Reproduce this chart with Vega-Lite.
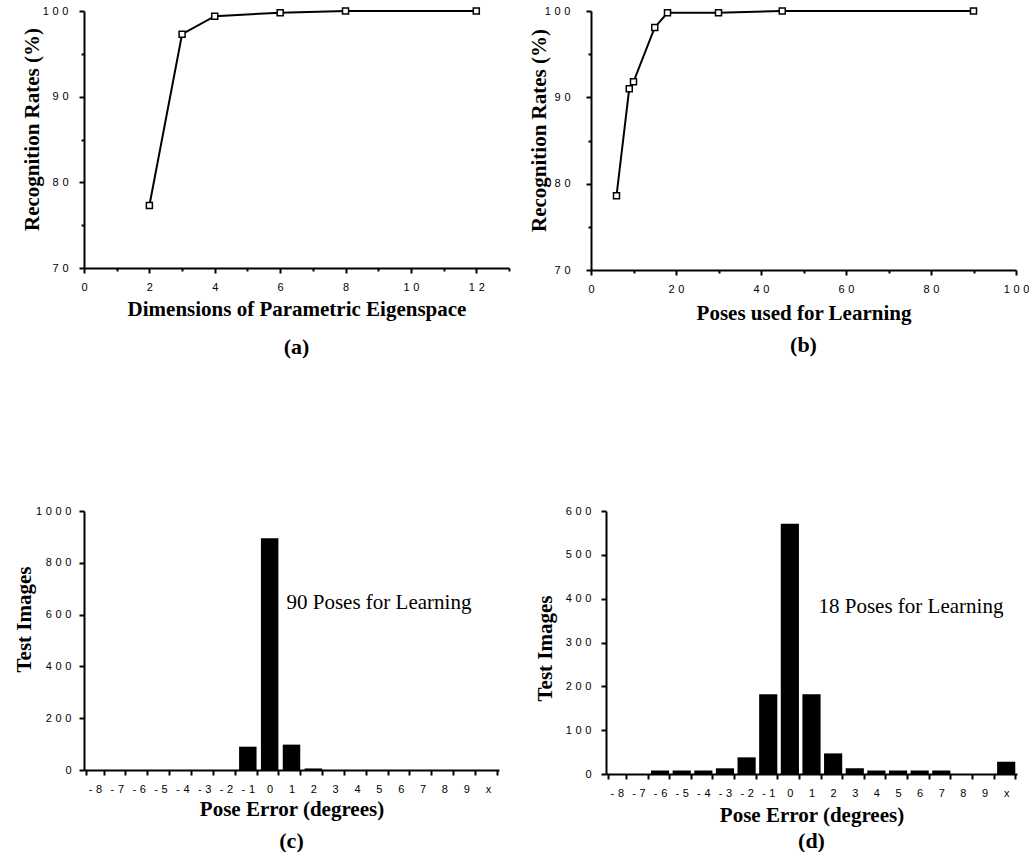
{
  "$schema": "https://vega.github.io/schema/vega-lite/v6.json",
  "background": "white",
  "padding": {"left": 13, "top": 5, "right": 0, "bottom": 0},
  "config": {
    "view": {"stroke": null},
    "axis": {
      "domainColor": "black", "domainWidth": 2, "tickColor": "black", "tickWidth": 2,
      "labelFont": "Liberation Sans", "labelFontSize": 11, "labelColor": "black", "labelPadding": 8,
      "titleFont": "Liberation Serif", "titleFontSize": 21, "titleFontWeight": "bold", "titleColor": "black",
      "grid": false, "labelOverlap": false, "labelFlush": false, "labelAngle": 0
    },
    "title": {"font": "Liberation Serif", "fontSize": 22, "fontWeight": "bold", "color": "black", "orient": "bottom", "offset": 12}
  },
  "spacing": 147,
  "vconcat": [
    {
      "hconcat": [
        {
          "width": 425, "height": 257,
          "title": {"text": "(a)", "offset": 18},
          "data": {"values": [
            {"dim": 2, "rate": 77.3}, {"dim": 3, "rate": 97.3}, {"dim": 4, "rate": 99.4},
            {"dim": 6, "rate": 99.8}, {"dim": 8, "rate": 100}, {"dim": 12, "rate": 100}
          ]},
          "mark": {"type": "line", "color": "black", "strokeWidth": 2,
            "point": {"shape": "square", "filled": true, "fill": "white", "stroke": "black", "strokeWidth": 1.5, "size": 36}},
          "encoding": {
            "x": {"field": "dim", "type": "quantitative", "scale": {"domain": [0, 13], "nice": false},
              "axis": {"title": "Dimensions of Parametric Eigenspace", "values": [0,1,2,3,4,5,6,7,8,9,10,11,12,13],
                "labelExpr": "datum.value % 2 == 0 && datum.value <= 12 ? replace(toString(datum.value), regexp('(.)(?=.)', 'g'), '$1\u2004') : ''",
                "tickSize": {"condition": {"test": "datum.value % 2 != 0", "value": 3}, "value": 5}, "titlePadding": 6}},
            "y": {"field": "rate", "type": "quantitative", "scale": {"domain": [70, 100], "nice": false, "zero": false},
              "axis": {"title": "Recognition Rates (%)", "values": [70,75,80,85,90,95,100], "titleY": 118,
                "labelPadding": 11, "titlePadding": 0,
                "labelExpr": "datum.value % 10 == 0 ? replace(toString(datum.value), regexp('(.)(?=.)', 'g'), '$1\u2004') : ''",
                "tickSize": {"condition": {"test": "datum.value % 10 != 0", "value": 3}, "value": 5}}}
          }
        },
        {
          "width": 425, "height": 259,
          "title": "(b)",
          "data": {"values": [
            {"poses": 6, "rate": 78.6}, {"poses": 9, "rate": 91.0}, {"poses": 10, "rate": 91.8},
            {"poses": 15, "rate": 98.1}, {"poses": 18, "rate": 99.8}, {"poses": 30, "rate": 99.8},
            {"poses": 45, "rate": 100}, {"poses": 90, "rate": 100}
          ]},
          "mark": {"type": "line", "color": "black", "strokeWidth": 2,
            "point": {"shape": "square", "filled": true, "fill": "white", "stroke": "black", "strokeWidth": 1.5, "size": 36}},
          "encoding": {
            "x": {"field": "poses", "type": "quantitative", "scale": {"domain": [0, 100], "nice": false},
              "axis": {"title": "Poses used for Learning", "values": [0,10,20,30,40,50,60,70,80,90,100],
                "labelExpr": "datum.value % 20 == 0 ? replace(toString(datum.value), regexp('(.)(?=.)', 'g'), '$1\u2004') : ''",
                "tickSize": {"condition": {"test": "datum.value % 20 != 0", "value": 3}, "value": 5}, "titlePadding": 8}},
            "y": {"field": "rate", "type": "quantitative", "scale": {"domain": [70, 100], "nice": false, "zero": false},
              "axis": {"title": "Recognition Rates (%)", "values": [70,75,80,85,90,95,100], "titleY": 119,
                "labelPadding": 16, "titlePadding": -5,
                "labelExpr": "datum.value % 10 == 0 ? replace(toString(datum.value), regexp('(.)(?=.)', 'g'), '$1\u2004') : ''",
                "tickSize": {"condition": {"test": "datum.value % 10 != 0", "value": 3}, "value": 5}}}
          }
        }
      ],
      "spacing": 18
    },
    {
      "hconcat": [
        {
          "width": 415, "height": 259,
          "title": "(c)",
          "layer": [
            {
              "data": {"values": [
                {"pose": "-8", "count": 0}, {"pose": "-7", "count": 0}, {"pose": "-6", "count": 0},
                {"pose": "-5", "count": 0}, {"pose": "-4", "count": 0}, {"pose": "-3", "count": 0},
                {"pose": "-2", "count": 0}, {"pose": "-1", "count": 90}, {"pose": "0", "count": 895},
                {"pose": "1", "count": 98}, {"pose": "2", "count": 6}, {"pose": "3", "count": 0},
                {"pose": "4", "count": 0}, {"pose": "5", "count": 0}, {"pose": "6", "count": 0},
                {"pose": "7", "count": 0}, {"pose": "8", "count": 0}, {"pose": "9", "count": 0},
                {"pose": "x", "count": 0}
              ]},
              "mark": {"type": "bar", "color": "black"},
              "encoding": {
                "x": {"field": "pose", "type": "ordinal", "sort": null,
                  "scale": {"domain": ["-8","-7","-6","-5","-4","-3","-2","-1","0","1","2","3","4","5","6","7","8","9","x"], "paddingInner": 0.2, "paddingOuter": 0.1},
                  "axis": {"title": "Pose Error (degrees)", "tickBand": "extent", "tickSize": 5, "titlePadding": 4,
                    "labelExpr": "replace(datum.label, regexp('(.)(?=.)', 'g'), '$1\u2004')"}},
                "y": {"field": "count", "type": "quantitative", "scale": {"domain": [0, 1000], "nice": false},
                  "axis": {"title": "Test Images", "values": [0,100,200,300,400,500,600,700,800,900,1000], "titleY": 108,
                    "labelPadding": 8, "titlePadding": 1,
                    "labelExpr": "datum.value % 200 == 0 ? replace(toString(datum.value), regexp('(.)(?=.)', 'g'), '$1\u2004') : ''",
                    "tickSize": {"condition": {"test": "datum.value % 200 != 0", "value": 3}, "value": 5}}}
              }
            },
            {
              "data": {"values": [{"pose": "1", "count": 645, "label": "90 Poses for Learning"}]},
              "mark": {"type": "text", "font": "Liberation Serif", "fontSize": 21, "align": "left", "baseline": "middle", "dx": -5, "color": "black"},
              "encoding": {
                "x": {"field": "pose", "type": "ordinal"},
                "y": {"field": "count", "type": "quantitative"},
                "text": {"field": "label"}
              }
            }
          ]
        },
        {
          "width": 411, "height": 263,
          "title": {"text": "(d)", "offset": 6},
          "layer": [
            {
              "data": {"values": [
                {"pose": "-8", "count": 0}, {"pose": "-7", "count": 0}, {"pose": "-6", "count": 8},
                {"pose": "-5", "count": 8}, {"pose": "-4", "count": 8}, {"pose": "-3", "count": 13},
                {"pose": "-2", "count": 38}, {"pose": "-1", "count": 182}, {"pose": "0", "count": 571},
                {"pose": "1", "count": 182}, {"pose": "2", "count": 47}, {"pose": "3", "count": 13},
                {"pose": "4", "count": 8}, {"pose": "5", "count": 8}, {"pose": "6", "count": 8},
                {"pose": "7", "count": 8}, {"pose": "8", "count": 0}, {"pose": "9", "count": 0},
                {"pose": "x", "count": 28}
              ]},
              "mark": {"type": "bar", "color": "black"},
              "encoding": {
                "x": {"field": "pose", "type": "ordinal", "sort": null,
                  "scale": {"domain": ["-8","-7","-6","-5","-4","-3","-2","-1","0","1","2","3","4","5","6","7","8","9","x"], "paddingInner": 0.16, "paddingOuter": 0.08},
                  "axis": {"title": "Pose Error (degrees)", "tickBand": "extent", "tickSize": 5, "titlePadding": 6,
                    "labelExpr": "replace(datum.label, regexp('(.)(?=.)', 'g'), '$1\u2004')"}},
                "y": {"field": "count", "type": "quantitative", "scale": {"domain": [0, 600], "nice": false},
                  "axis": {"title": "Test Images", "values": [0,50,100,150,200,250,300,350,400,450,500,550,600], "titleY": 137,
                    "labelPadding": 10, "titlePadding": 10,
                    "labelExpr": "datum.value % 100 == 0 ? replace(toString(datum.value), regexp('(.)(?=.)', 'g'), '$1\u2004') : ''",
                    "tickSize": {"condition": {"test": "datum.value % 100 != 0", "value": 3}, "value": 5}}}
              }
            },
            {
              "data": {"values": [{"pose": "1", "count": 380, "label": "18 Poses for Learning"}]},
              "mark": {"type": "text", "font": "Liberation Serif", "fontSize": 21, "align": "left", "baseline": "middle", "dx": 7, "color": "black"},
              "encoding": {
                "x": {"field": "pose", "type": "ordinal"},
                "y": {"field": "count", "type": "quantitative"},
                "text": {"field": "label"}
              }
            }
          ]
        }
      ],
      "spacing": 35
    }
  ]
}
